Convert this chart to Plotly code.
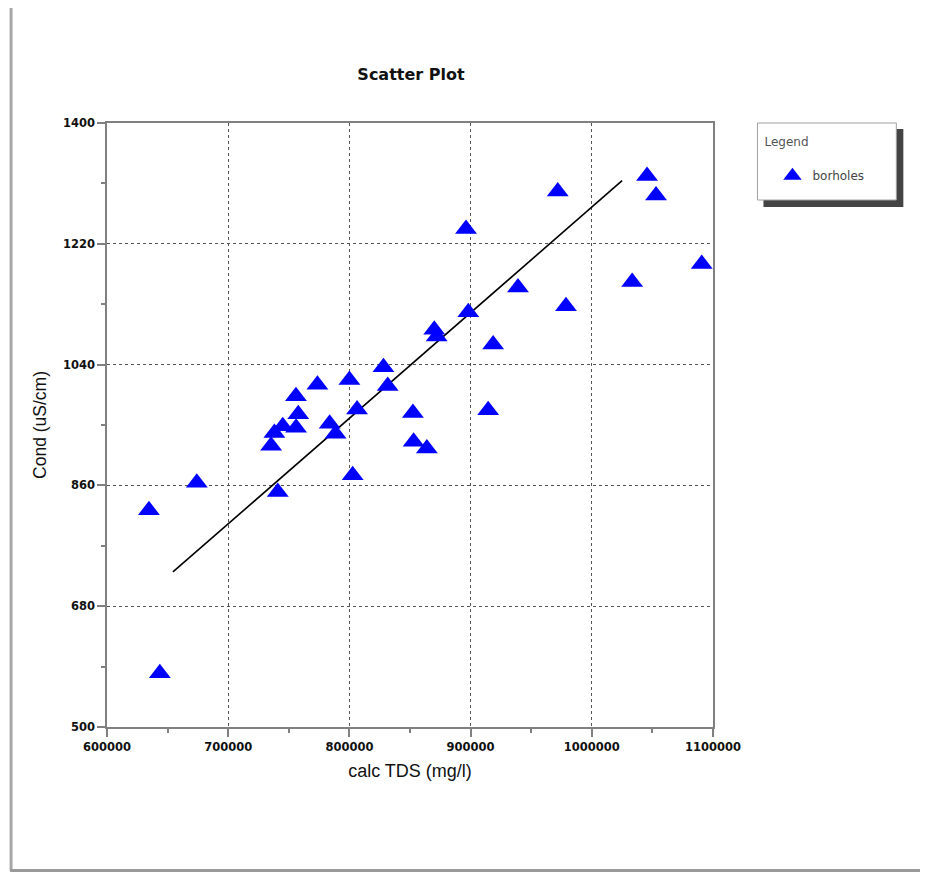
import plotly.graph_objects as go

# ---- data ----
calc_tds = [634600, 643600, 674100, 740900, 735400, 738100, 745000, 755900,
            757800, 756000, 773600, 800000, 783700, 788600, 806300, 802700,
            828100, 831600, 852400, 853000, 863900, 870000, 872000, 898100,
            896200, 918600, 914500, 939100, 971900, 978700, 1033300, 1045600,
            1053000, 1090700]
cond = [823, 580, 864, 850, 919, 938, 948, 993,
        966, 946, 1010, 1017, 952, 937, 973, 875,
        1036, 1008, 968, 925, 915, 1092, 1082, 1118,
        1242, 1070, 972, 1155, 1298, 1127, 1163, 1321,
        1292, 1190]
fit_x = [654400, 1025000]
fit_y = [731, 1314]

x_ticks = [600000, 700000, 800000, 900000, 1000000, 1100000]
y_ticks = [500, 680, 860, 1040, 1220, 1400]
y_tick_text = ["500", "680", "860", "1040", "1220", "1400"]

# ---- layout helpers (reference pixel -> paper); page has an 8px body margin ----
OFF = 8
FW, FH = 928 - 2 * OFF, 864
L, R, T, B = 107 - OFF, 713.5 - OFF, 123 - OFF, 727 - OFF
W, H = R - L, B - T


def px(x):
    return (x - OFF - L) / W


def py(y):
    return (B - (y - OFF)) / H


fig = go.Figure()
fig.add_trace(go.Scatter(
    x=fit_x, y=fit_y, mode="lines",
    line=dict(color="black", width=1.6), showlegend=False, hoverinfo="skip"))
fig.add_trace(go.Scatter(
    x=calc_tds, y=cond, mode="markers", name="borholes",
    marker=dict(symbol="triangle-up", size=19, color="#0000ff",
                line=dict(width=0))))

bottom_y = OFF + FH - 1.5  # as low as the page allows
shapes = [
    # outer frame
    dict(type="line", xref="paper", yref="paper", x0=px(11), x1=px(11),
         y0=py(8), y1=py(bottom_y), line=dict(color="#a8a8a8", width=3)),
    dict(type="line", xref="paper", yref="paper", x0=px(10), x1=px(930),
         y0=py(bottom_y), y1=py(bottom_y), line=dict(color="#9a9a9a", width=3)),
    dict(type="line", xref="paper", yref="paper", x0=px(11), x1=px(930),
         y0=py(4), y1=py(4), line=dict(color="#ececec", width=3)),
    # legend box with shadow
    dict(type="rect", xref="paper", yref="paper", x0=px(764), x1=px(904),
         y0=py(129), y1=py(207), fillcolor="#444444", line=dict(width=0),
         layer="above"),
    dict(type="rect", xref="paper", yref="paper", x0=px(758), x1=px(897),
         y0=py(123), y1=py(200), fillcolor="white",
         line=dict(color="#a0a0a0", width=1), layer="above"),
]

axis_common = dict(
    showline=True, linecolor="#808080", linewidth=1.5, mirror=True,
    showgrid=True, gridcolor="#555555", griddash="dot", gridwidth=1,
    ticks="outside", ticklen=8, tickcolor="#808080", tickwidth=1.5,
    zeroline=False,
    tickfont=dict(family="DejaVu Sans", size=11.5, color="#111111",
                  weight="bold"),
)

fig.update_layout(
    width=FW, height=FH,
    margin=dict(l=L, r=FW - R, t=T, b=FH - B),
    paper_bgcolor="white", plot_bgcolor="white",
    title=dict(text="<b>Scatter Plot</b>", x=(411 - OFF) / FW,
               xanchor="center", y=1 - (74 - OFF) / FH, yanchor="middle",
               font=dict(family="DejaVu Sans", size=16, color="#111111")),
    xaxis=dict(range=[600000, 1100000], tickvals=x_ticks,
               ticktext=[str(v) for v in x_ticks],
               minor=dict(dtick=50000, tick0=600000, ticks="outside",
                          ticklen=4, tickcolor="#808080", showgrid=False),
               title=dict(text="calc TDS (mg/l)", standoff=12,
                          font=dict(family="Liberation Sans, Arial", size=18,
                                    color="#111111")),
               **axis_common),
    yaxis=dict(range=[500, 1400], tickvals=y_ticks, ticktext=y_tick_text,
               minor=dict(dtick=90, tick0=500, ticks="outside",
                          ticklen=4, tickcolor="#808080", showgrid=False),
               title=dict(text="Cond (uS/cm)", standoff=12,
                          font=dict(family="Liberation Sans, Arial", size=17.5,
                                    color="#111111")),
               **axis_common),
    legend=dict(
        x=px(763), y=py(130), xanchor="left", yanchor="top",
        bgcolor="rgba(0,0,0,0)", borderwidth=0,
        title=dict(text="Legend<br> ", font=dict(family="DejaVu Sans",
                                                 size=12, color="#555555")),
        font=dict(family="DejaVu Sans", size=12, color="#444444"),
        indentation=10,
    ),
    shapes=shapes,
)

fig.write_html("out.html")
